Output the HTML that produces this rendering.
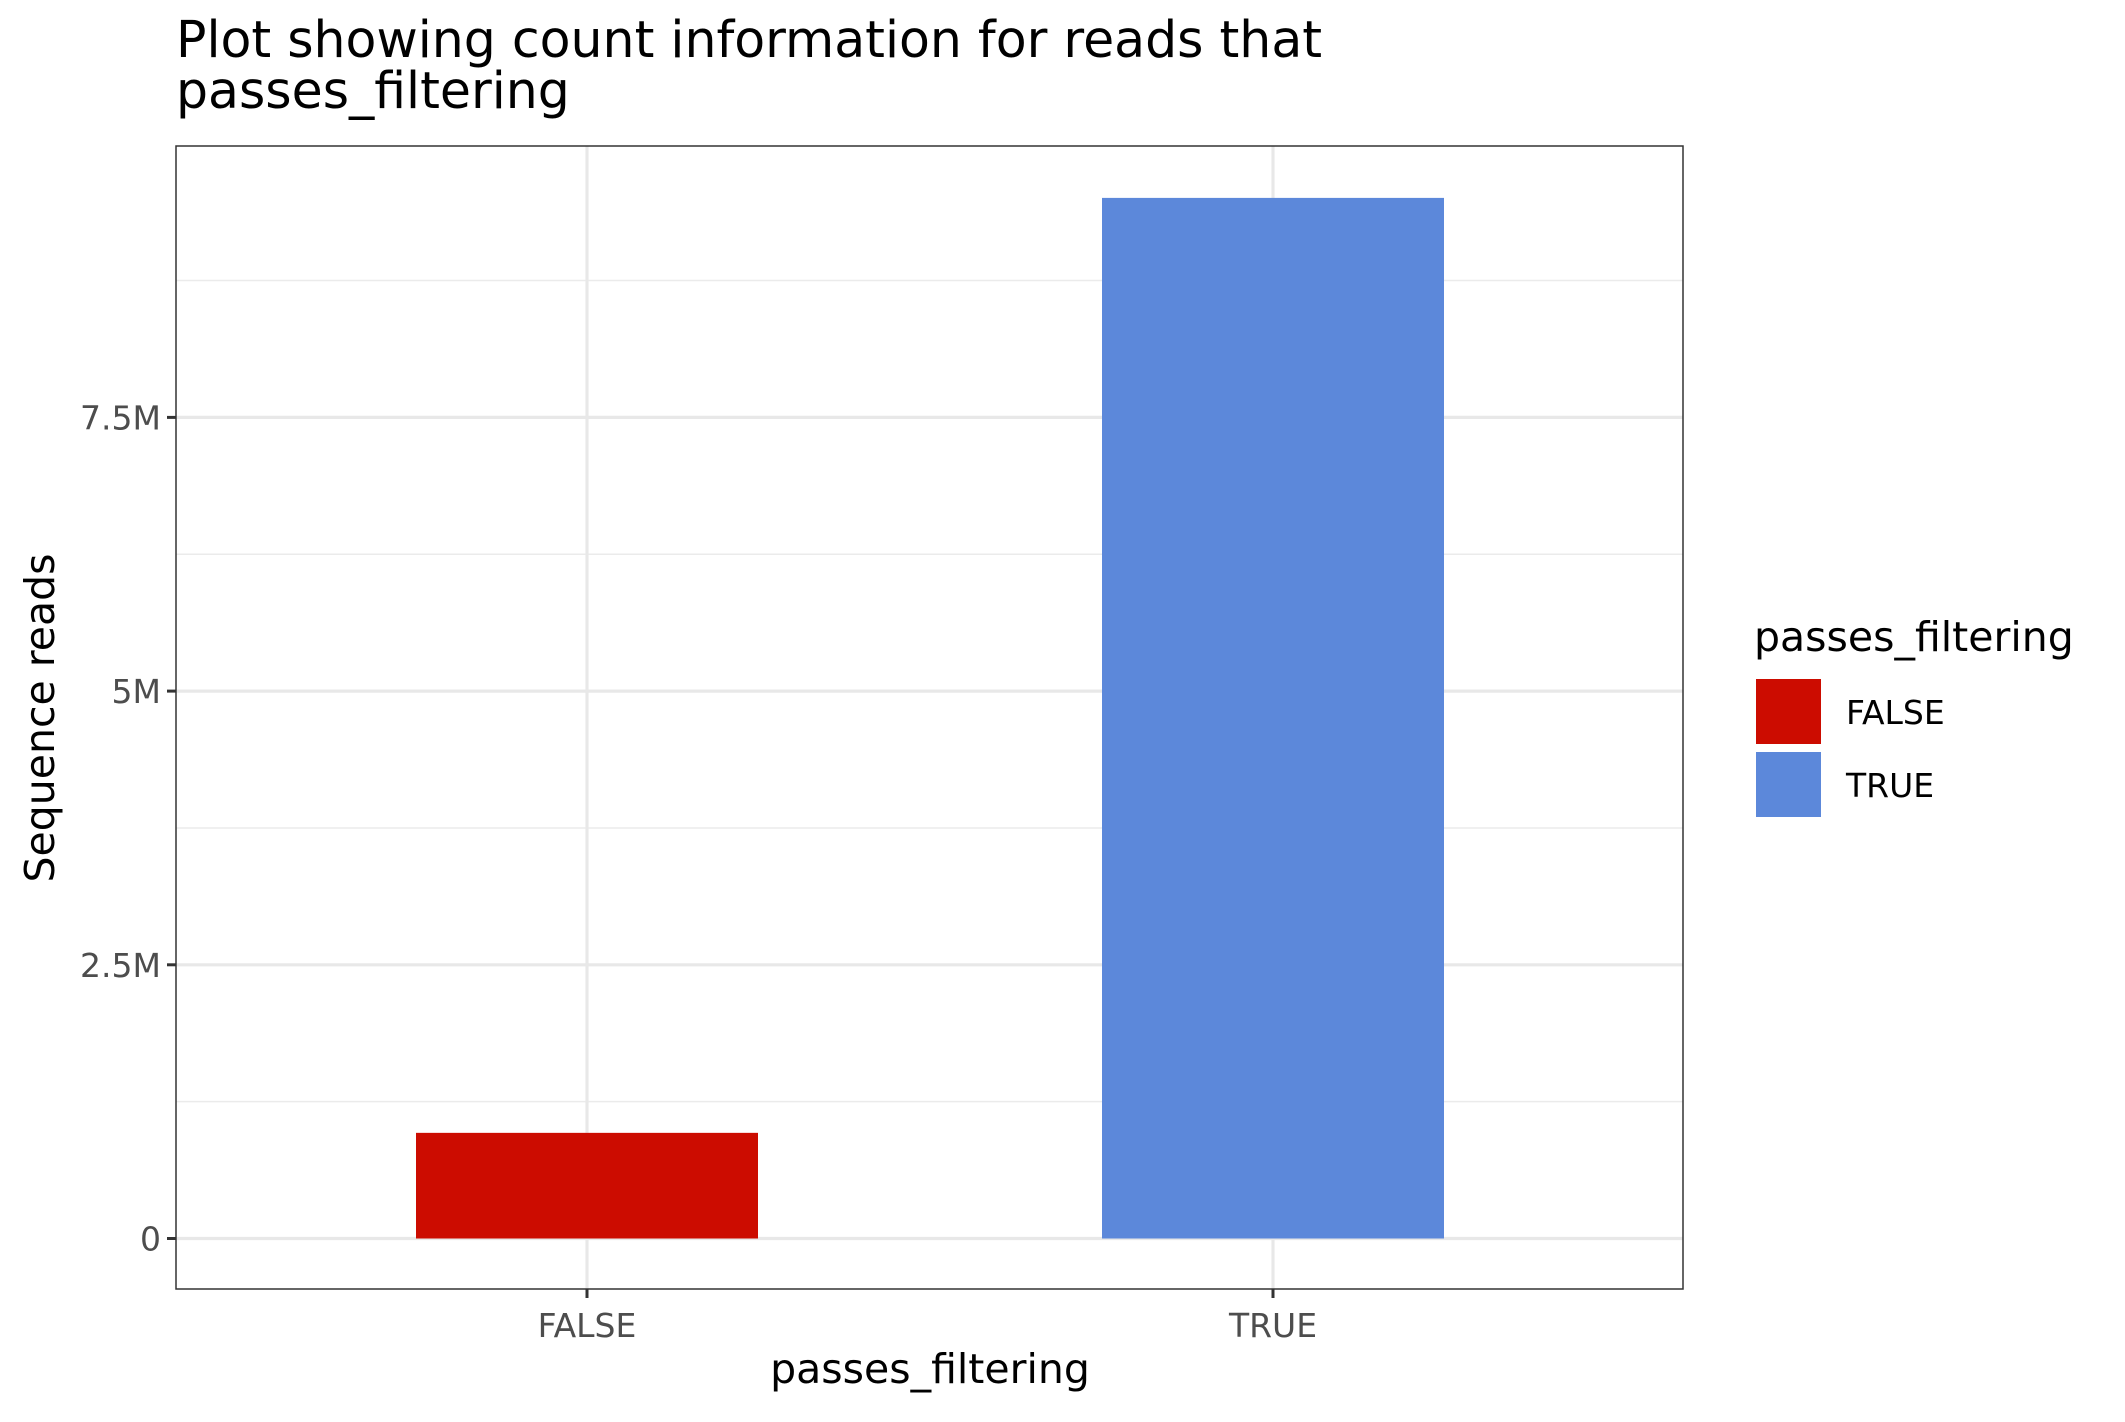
<!DOCTYPE html>
<html><head><meta charset="utf-8"><style>
body{margin:0;background:#fff}
svg text{font-family:"DejaVu Sans","Liberation Sans",sans-serif}
</style></head><body>
<svg id="chart" width="2125" height="1417" viewBox="0 0 2125 1417" xmlns="http://www.w3.org/2000/svg">
<rect width="2125" height="1417" fill="#fff"/>
<text x="176" y="57" font-size="50.5" fill="#000">Plot showing count information for reads that</text>
<text x="176" y="108" font-size="50.5" fill="#000">passes_filtering</text>
<g id="grid"></g>
<g id="bars"></g>
<rect x="176" y="146" width="1507" height="1143" fill="none" stroke="#333" stroke-width="1.5"/>
<g id="axes"></g>
<text x="930" y="1383" font-size="41" text-anchor="middle" fill="#000">passes_filtering</text>
<text transform="translate(54,718) rotate(-90)" font-size="41" text-anchor="middle" fill="#000">Sequence reads</text>
<g id="legend"></g>
</svg>
<script>
const categories = ["FALSE", "TRUE"];
const values = [965000, 9505000];
const colors = ["#CC0C00", "#5C88DA"];
const yTicks = [0, 2500000, 5000000, 7500000];
const yTickLabels = ["0", "2.5M", "5M", "7.5M"];
const yMinor = [1250000, 3750000, 6250000, 8750000];

const NS = "http://www.w3.org/2000/svg";
const L = 176, R = 1683, T = 146, B = 1289;
const y0 = 1238.5, pxPerUnit = 273.7 / 2500000;
function yS(v) { return y0 - v * pxPerUnit; }
function xS(i) { return 587 + i * 686; }
const barW = 342;
function mk(tag, attrs, parent) { const e = document.createElementNS(NS, tag); for (const k in attrs) e.setAttribute(k, attrs[k]); parent.appendChild(e); return e; }

const grid = document.getElementById("grid");
yMinor.forEach(v => {
  const l = mk("line", {x1: L, x2: R, y1: yS(v), y2: yS(v), stroke: "#ebebeb", "stroke-width": 1.5}, grid);
  
  
});
yTicks.forEach(v => {
  const l = mk("line", {x1: L, x2: R, y1: yS(v), y2: yS(v), stroke: "#e8e8e8", "stroke-width": 3.2}, grid);
  
  
});
categories.forEach((c, i) => {
  const l = mk("line", {x1: xS(i), x2: xS(i), y1: T, y2: B, stroke: "#e8e8e8", "stroke-width": 3.2}, grid);
  
  
});

const bars = document.getElementById("bars");
categories.forEach((c, i) => {
  const b = mk("rect", {x: xS(i) - barW / 2, y: yS(values[i]), width: barW, height: yS(0) - yS(values[i]), fill: colors[i]}, bars);
  
  
});

const axes = document.getElementById("axes");
yTicks.forEach((v, i) => {
  const t = mk("line", {x1: L - 9, x2: L, y1: yS(v), y2: yS(v), stroke: "#333", "stroke-width": 3}, axes);
  
  
  const tx = mk("text", {x: L - 15, y: yS(v) + 12, "font-size": 33, "text-anchor": "end", fill: "#4d4d4d"}, axes);
  tx.textContent = yTickLabels[i];
  
  
});
categories.forEach((c, i) => {
  const t = mk("line", {x1: xS(i), x2: xS(i), y1: B, y2: B + 9, stroke: "#333", "stroke-width": 3}, axes);
  
  
  const tx = mk("text", {x: xS(i), y: 1337, "font-size": 33, "text-anchor": "middle", fill: "#4d4d4d"}, axes);
  tx.textContent = c;
  
  
});

const legend = document.getElementById("legend");
const lt = mk("text", {x: 1754, y: 651, "font-size": 41, fill: "#000"}, legend);
lt.textContent = "passes_filtering";


categories.forEach((c, i) => {
  const ky = 679 + i * 73;
  const k = mk("rect", {x: 1756, y: ky, width: 65, height: 65, fill: colors[i]}, legend);
  
  
  const t = mk("text", {x: 1846, y: ky + 45, "font-size": 33, fill: "#000"}, legend);
  t.textContent = c;
  
  
});
</script>
</body></html>
